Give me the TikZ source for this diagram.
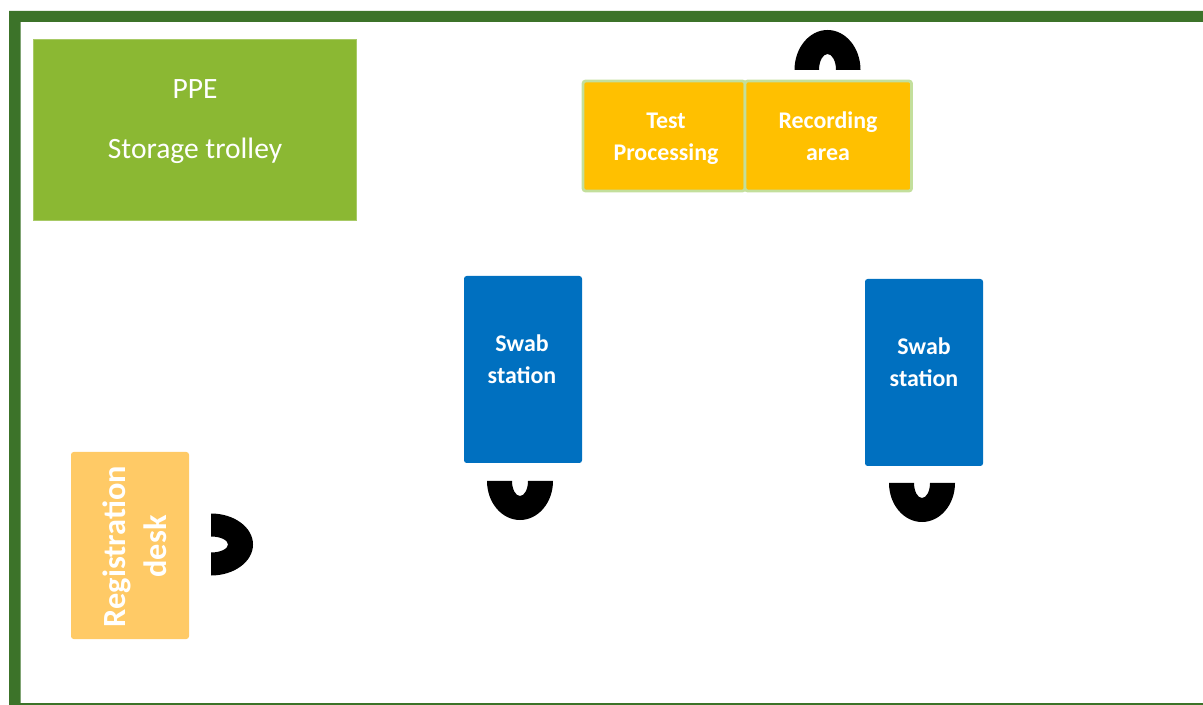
\documentclass[tikz,border=0pt]{standalone}
\usepackage{fontspec}
\setmainfont{Carlito}
\definecolor{framegreen}{HTML}{3C7329}
\definecolor{trolleygreen}{HTML}{8BB833}
\definecolor{edgegreen}{HTML}{C3DF9C}
\definecolor{testamber}{HTML}{FFC000}
\definecolor{swabblue}{HTML}{0070C0}
\definecolor{deskamber}{HTML}{FFCA66}
\tikzset{
  trolleybox/.style={fill=trolleygreen, draw=trolleygreen!75!white, line width=0.3pt, inner sep=0pt, outer sep=0pt},
  testbox/.style={fill=testamber, draw=edgegreen, line width=1.6pt, rounded corners=1.5pt, inner sep=0pt, outer sep=0pt},
  swabbox/.style={fill=swabblue, rounded corners=1.5pt, inner sep=0pt, outer sep=0pt},
  deskbox/.style={fill=deskamber, rounded corners=1.5pt, inner sep=0pt, outer sep=0pt},
  boldlabel/.style={text=white, align=center, font=\fontsize{13.6}{18.3}\selectfont\bfseries},
  pics/seat/.style n args={4}{code={
    \fill[black] (-#1,0) arc[start angle=180, end angle=360, x radius=#1, y radius=#2]
      -- (#3,0) arc[start angle=0, end angle=-180, x radius=#3, y radius=#4] -- cycle;
  }}
}
\begin{document}
\begin{tikzpicture}[x=0.02cm, y=-0.02cm]
  \useasboundingbox (0,0) rectangle (1203,705);
  % room walls
  \fill[framegreen] (9,705) |- (1203,11) -- (1203,22) -| (20.5,703) -- (1203,703) -- (1203,705) -- cycle;
  % furniture
  \node[trolleybox, minimum width=323.5*0.02cm, minimum height=181*0.02cm] (trolley) at (195,129.5) {};
  \node[testbox, minimum width=162*0.02cm, minimum height=110*0.02cm] (test) at (664,136) {};
  \node[testbox, minimum width=166.5*0.02cm, minimum height=110*0.02cm] (recording) at (828.3,136) {};
  \node[swabbox, minimum width=118*0.02cm, minimum height=187*0.02cm] (swabA) at (523,369.5) {};
  \node[swabbox, minimum width=118*0.02cm, minimum height=187*0.02cm] (swabB) at (924,372.5) {};
  \node[deskbox, minimum width=118*0.02cm, minimum height=187*0.02cm] (desk) at (130,545.5) {};
  % labels
  \node[text=white, align=center, font=\fontsize{16.8}{34.1}\selectfont] (trolleytext) at (195,122) {PPE\\Storage trolley};
  \node[boldlabel] (testtext) at (666,139) {Test\\Processing};
  \node[boldlabel] (recordingtext) at (828,136.5) {Recording\\area};
  \node[boldlabel] (swabAtext) at (522,359.5) {Swab\\station};
  \node[boldlabel] (swabBtext) at (924,362) {Swab\\station};
  \node[boldlabel, rotate=90, font=\fontsize{18.4}{23.5}\selectfont\bfseries] (desktext) at (135,546.5) {Registration\\desk};
  % seats
  \pic at (827.5,70) {seat={33}{40}{8.5}{16}};
  \pic[rotate=180] at (520,481) {seat={33}{39}{8}{15}};
  \pic[rotate=180] at (922,483) {seat={33}{39}{8}{15}};
  \pic[rotate=-90] at (211,544.5) {seat={31}{42}{8}{17}};
\end{tikzpicture}
\end{document}
